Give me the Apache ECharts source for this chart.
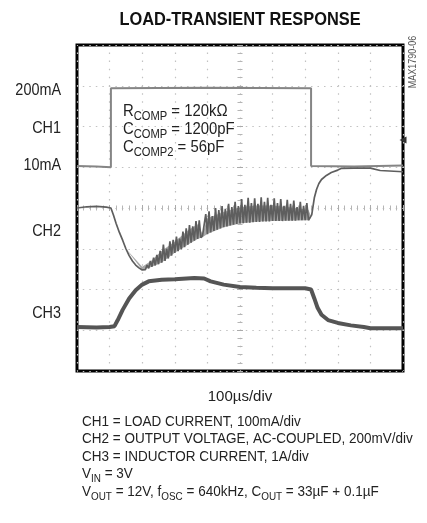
<!DOCTYPE html>
<html>
<head>
<meta charset="utf-8">
<script src="https://cdn.jsdelivr.net/npm/echarts@6/dist/echarts.min.js"></script>
<style>
html,body{margin:0;padding:0;background:#fff;}
#chart{width:427px;height:523px;}
</style>
</head>
<body>
<div id="chart"></div>
<script>
// time in microseconds (100 us/div), vertical values in screen divisions (0 = bottom, 8 = top)
var ch1 = [[0,5.03],[60,5.02],[104,5.0],[104,6.94],[400,6.95],[718,6.94],[718,5.03],[850,5.02],[1000,5.04]];

var ch2 = [
  [0,4.0],[30,4.03],[60,4.04],[90,4.02],[104,4.0],[112,3.82],[120,3.62],[130,3.40],[140,3.21],
  [150,3.0],[160,2.83],[170,2.70],[180,2.60],[190,2.53],[200,2.48],[210,2.49],[215,2.60],
  [220,2.52],[225,2.70],[230,2.56],[235,2.78],[240,2.59],[245,2.85],[250,2.62],[255,2.95],
  [260,2.66],[265,3.10],[270,2.70],[275,3.00],[280,2.76],[285,3.18],[290,2.83],[295,3.22],
  [300,2.90],[305,3.30],[310,2.94],[315,3.25],[320,2.99],[325,3.42],[330,3.04],[335,3.50],
  [340,3.10],[345,3.58],[350,3.15],[355,3.55],[360,3.20],[365,3.68],[370,3.24],[375,3.70],
  [380,3.27],[385,3.32],[390,3.30],[395,3.85],[400,3.36],[405,3.92],[410,3.40],[415,3.80],
  [420,3.44],[425,4.00],[430,3.47],[435,3.95],[440,3.50],[445,4.05],[450,3.53],[455,3.98],
  [460,3.55],[465,4.10],[470,3.57],[475,4.02],[480,3.59],[485,4.15],[490,3.61],[495,4.05],
  [500,3.62],[505,4.22],[510,3.63],[515,4.08],[520,3.64],[525,4.25],[530,3.64],[535,4.12],
  [540,3.65],[545,4.24],[550,3.66],[555,4.10],[560,3.66],[565,4.26],[570,3.67],[575,4.15],
  [580,3.67],[585,4.25],[590,3.67],[595,4.08],[600,3.68],[605,4.24],[610,3.68],[615,4.12],
  [620,3.68],[625,4.22],[630,3.68],[635,4.05],[640,3.69],[645,4.20],[650,3.69],[655,4.10],
  [660,3.69],[665,4.18],[670,3.69],[675,4.02],[680,3.70],[685,4.15],[690,3.70],[695,4.05],
  [700,3.70],[705,4.12],[710,3.70],[715,3.72],[720,3.83],[728,4.25],[735,4.46],[742,4.60],
  [750,4.70],[765,4.80],[780,4.87],[800,4.93],[810,4.97],[850,4.98],[900,4.98],[930,4.92],[1000,4.89]
];

// noise band of CH2 (lower and upper envelope)
var ch2BandTime = [150, 200, 230, 260, 300, 340, 370, 385, 400, 450, 500, 550, 600, 650, 710, 718];
var ch2BandLow  = [3.0, 2.48, 2.56, 2.66, 2.90, 3.10, 3.24, 3.28, 3.36, 3.53, 3.62, 3.66, 3.68, 3.69, 3.70, 3.76];
var ch2BandHigh = [3.0, 2.56, 2.72, 2.95, 3.18, 3.45, 3.60, 3.36, 3.75, 3.90, 4.02, 4.06, 4.06, 4.02, 3.96, 3.80];

var ch3 = [
  [0,1.08],[60,1.07],[100,1.08],[115,1.10],[125,1.25],[140,1.50],[160,1.78],[180,1.98],
  [200,2.12],[220,2.20],[260,2.24],[300,2.25],[360,2.28],[390,2.27],[410,2.20],[450,2.12],
  [500,2.06],[550,2.04],[600,2.03],[650,2.03],[700,2.03],[718,2.0],[728,1.78],[738,1.55],
  [750,1.38],[770,1.25],[800,1.18],[840,1.12],[880,1.08],[900,1.05],[1000,1.05]
];

var leftLabels = ['200mA','CH1','10mA','CH2','CH3'];
var leftLabelLevels = [6.87, 5.96, 5.05, 3.41, 1.42];
var groundMarkerLevel = 5.67;

var titleText = 'LOAD-TRANSIENT RESPONSE';
var xAxisName = '100\u00b5s/div';
var figureId = 'MAX1790-06';
var compLines = [
  '{n|R}{s|COMP}{n| = 120k\u03a9}',
  '{n|C}{s|COMP}{n| = 1200pF}',
  '{n|C}{s|COMP2}{n| = 56pF}'
];
var noteLines = [
  '{n|CH1 = LOAD CURRENT, 100mA/div}',
  '{n|CH2 = OUTPUT VOLTAGE, AC-COUPLED, 200mV/div}',
  '{n|CH3 = INDUCTOR CURRENT, 1A/div}',
  '{n|V}{s|IN}{n| = 3V}',
  '{n|V}{s|OUT}{n| = 12V, f}{s|OSC}{n| = 640kHz, C}{s|OUT}{n| = 33\u00b5F + 0.1\u00b5F}'
];

var FONT = '"Liberation Sans Narrow", "Liberation Sans", Arial, sans-serif';
var chart = echarts.init(document.getElementById('chart'), null, {renderer: 'canvas'});

function centerAxis(inside, isX) {
  return {
    type: 'value', min: 0, max: isX ? 1000 : 8, interval: isX ? 100 : 1,
    position: isX ? 'bottom' : 'left',
    offset: -163,
    axisLine: {show: false},
    axisLabel: {show: false},
    splitLine: {show: false},
    axisTick: {show: true, inside: inside, length: 3, lineStyle: {color: '#aaa', width: 1}},
    minorTick: {show: true, splitNumber: 5, length: 2.5, lineStyle: {color: '#b5b5b5', width: 1}}
  };
}

var option = {
  animation: false,
  backgroundColor: '#fff',
  grid: {left: 77, top: 45, width: 326, height: 326, show: true, borderColor: '#000', borderWidth: 3, backgroundColor: 'transparent'},
  xAxis: [
    {type: 'value', min: 0, max: 1000, interval: 100,
     axisLine: {show: false}, axisTick: {show: false}, axisLabel: {show: false},
     splitLine: {show: true, lineStyle: {color: '#c2c2c2', width: 1.2, type: [1.5, 6.65], dashOffset: 0.75}},
     name: xAxisName, nameLocation: 'middle', nameGap: 18,
     nameTextStyle: {fontFamily: FONT, fontSize: 15, color: '#222'}},
    centerAxis(false, true),
    centerAxis(true, true)
  ],
  yAxis: [
    {type: 'value', min: 0, max: 8, interval: 1,
     axisLine: {show: false}, axisTick: {show: false}, axisLabel: {show: false},
     splitLine: {show: true, lineStyle: {color: '#c2c2c2', width: 1.2, type: [1.5, 5.02], dashOffset: 0.75}}},
    centerAxis(false, false),
    centerAxis(true, false)
  ],
  series: [
    {name: 'CH1', type: 'line', data: ch1, showSymbol: false, symbol: 'none',
     lineStyle: {color: '#858585', width: 2}, z: 3,
     markPoint: {silent: true, symbol: 'triangle', symbolSize: [7, 7], symbolRotate: 90,
       itemStyle: {color: '#333'}, label: {show: false},
       data: [{coord: [1000, groundMarkerLevel]}]}},
    {name: 'CH2 band', type: 'custom', z: 3, silent: true,
     data: [0],
     renderItem: function (params, api) {
       var pts = [];
       for (var i = 0; i < ch2BandTime.length; i++) pts.push(api.coord([ch2BandTime[i], ch2BandHigh[i]]));
       for (var j = ch2BandTime.length - 1; j >= 0; j--) pts.push(api.coord([ch2BandTime[j], ch2BandLow[j]]));
       return {type: 'polygon', shape: {points: pts}, style: {fill: '#8a8a8a', opacity: 0.75}};
     }},
    {name: 'CH2', type: 'line', data: ch2, showSymbol: false, symbol: 'none',
     lineStyle: {color: '#5e5e5e', width: 1.7}, z: 4},
    {name: 'CH3', type: 'line', data: ch3, showSymbol: false, symbol: 'none',
     lineStyle: {color: '#555', width: 4}, z: 4}
  ]
};
chart.setOption(option);

var graphics = [];
graphics.push({type: 'text', x: 240, y: 20, scaleX: 0.91, style: {text: titleText, fontFamily: FONT, fontSize: 18, fontWeight: 'bold', fill: '#111', align: 'center', verticalAlign: 'middle'}});
for (var i = 0; i < leftLabels.length; i++) {
  var py = chart.convertToPixel({yAxisIndex: 0}, leftLabelLevels[i]);
  graphics.push({type: 'text', x: 61, y: py, scaleX: 0.9, style: {text: leftLabels[i], fontFamily: FONT, fontSize: 16, fill: '#222', align: 'right', verticalAlign: 'middle'}});
}
graphics.push({type: 'text', x: 123, y: 102, scaleX: 0.93, style: {text: compLines.join('\n'), rich: {
  n: {fontFamily: FONT, fontSize: 16, fill: '#222', lineHeight: 18, verticalAlign: 'bottom'},
  s: {fontFamily: FONT, fontSize: 12, fill: '#222', lineHeight: 13, verticalAlign: 'bottom', padding: [0,0,-3,0]}
}}});
graphics.push({type: 'text', x: 82, y: 412, scaleX: 0.9, style: {text: noteLines.join('\n'), rich: {
  n: {fontFamily: FONT, fontSize: 15, fill: '#222', lineHeight: 17.4, verticalAlign: 'bottom'},
  s: {fontFamily: FONT, fontSize: 11, fill: '#222', lineHeight: 13, verticalAlign: 'bottom', padding: [0,0,-3,0]}
}}});
graphics.push({type: 'text', x: 413, y: 62, rotation: Math.PI / 2, scaleX: 0.9, style: {text: figureId, fontFamily: FONT, fontSize: 10, fill: '#555', align: 'center', verticalAlign: 'middle'}});
chart.setOption({graphic: graphics});
</script>
</body>
</html>
